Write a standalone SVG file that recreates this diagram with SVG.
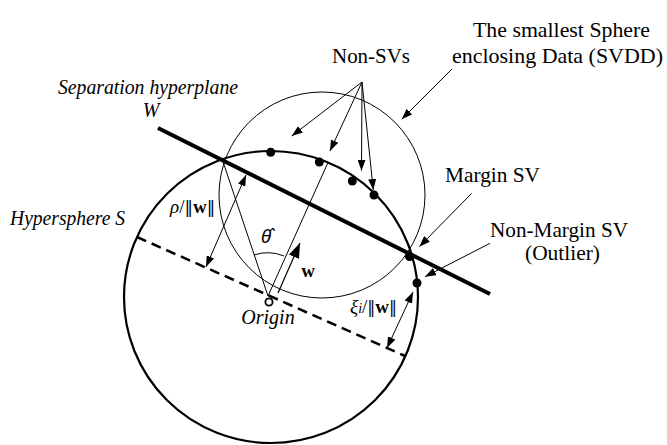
<svg xmlns="http://www.w3.org/2000/svg" width="667" height="445" viewBox="0 0 667 445">
<style>
.lbl{font-size:21px}
.it{font-size:20px;font-style:italic}
.math{font-size:19px}
.thin{stroke:#000;stroke-width:1;fill:none}
.dot{fill:#000}
</style>
<defs>
<marker id="ah" markerUnits="userSpaceOnUse" markerWidth="11" markerHeight="8" refX="11" refY="4" orient="auto-start-reverse">
<path d="M0,0 L11,4 L0,8 z" fill="#000"/>
</marker>
<marker id="ahb" markerUnits="userSpaceOnUse" markerWidth="15" markerHeight="11" refX="15" refY="5.5" orient="auto">
<path d="M0,0 L15,5.5 L0,11 z" fill="#000"/>
</marker>
</defs>
<rect width="667" height="445" fill="#fff"/>

<g id="hypersphere">
<ellipse cx="271" cy="297" rx="147" ry="146" fill="none" stroke="#000" stroke-width="2.2"/>
</g>
<g id="svdd-sphere">
<circle cx="322" cy="195" r="103" class="thin"/>
</g>
<g id="hyperplane">
<line x1="158" y1="128" x2="490" y2="294" stroke="#000" stroke-width="4"/>
</g>
<g id="dashed-plane">
<line x1="137" y1="237" x2="405" y2="356" stroke="#000" stroke-width="2.5" stroke-dasharray="10,6"/>
</g>

<g id="connectors">
<line x1="268" y1="296" x2="222.7" y2="160.7" class="thin"/>
<line x1="268" y1="296" x2="328" y2="162.5" class="thin"/>
<path d="M254,255 A43,43 0 0 1 284,256" class="thin"/>
<line x1="278" y1="293" x2="300" y2="243" stroke="#000" stroke-width="1.2" marker-end="url(#ahb)"/>
<line x1="206" y1="267" x2="246" y2="175" class="thin" marker-start="url(#ah)" marker-end="url(#ah)"/>
<line x1="387" y1="348" x2="413" y2="292" class="thin" marker-start="url(#ah)" marker-end="url(#ah)"/>
<line x1="362" y1="82" x2="291.7" y2="136" class="thin" marker-end="url(#ah)"/>
<line x1="362" y1="82" x2="330" y2="151" class="thin" marker-end="url(#ah)"/>
<line x1="362" y1="82" x2="361.5" y2="170.7" class="thin" marker-end="url(#ah)"/>
<line x1="362" y1="82" x2="373.3" y2="190" class="thin" marker-end="url(#ah)"/>
<line x1="452" y1="69" x2="401.7" y2="119.3" class="thin" marker-end="url(#ah)"/>
<line x1="471.7" y1="193.3" x2="419.3" y2="246.7" class="thin" marker-end="url(#ah)"/>
<line x1="490" y1="243.3" x2="425" y2="276.7" class="thin" marker-end="url(#ah)"/>
</g>

<g id="points">
<circle cx="270.7" cy="152.3" r="4.5" class="dot"/>
<circle cx="319.3" cy="162" r="4.5" class="dot"/>
<circle cx="352.3" cy="181" r="4.5" class="dot"/>
<circle cx="374" cy="195" r="4.5" class="dot"/>
<circle cx="409.5" cy="256.5" r="4.5" class="dot"/>
<circle cx="417" cy="283" r="4.5" class="dot"/>
</g>

<g id="origin">
<circle cx="269" cy="302" r="3.6" fill="#fff" stroke="#000" stroke-width="1.8"/>
<text class="it" font-family="'Liberation Serif', serif" x="268" y="324" text-anchor="middle">Origin</text>
</g>

<g id="labels" font-family="'Liberation Serif', serif">
<text class="lbl" x="561.5" y="37" text-anchor="middle" textLength="177" lengthAdjust="spacingAndGlyphs">The smallest Sphere</text>
<text class="lbl" x="557.5" y="63" text-anchor="middle" textLength="211" lengthAdjust="spacingAndGlyphs">enclosing Data (SVDD)</text>
<text class="lbl" x="371" y="63" text-anchor="middle" textLength="78" lengthAdjust="spacingAndGlyphs">Non-SVs</text>
<text class="it" x="148" y="94" text-anchor="middle" textLength="180" lengthAdjust="spacingAndGlyphs">Separation hyperplane</text>
<text class="it" x="151" y="117" text-anchor="middle" font-size="21">W</text>
<text class="it" x="10" y="225" textLength="115" lengthAdjust="spacingAndGlyphs">Hypersphere S</text>
<text class="lbl" x="492.5" y="182" text-anchor="middle" textLength="95" lengthAdjust="spacingAndGlyphs">Margin SV</text>
<text class="lbl" x="559" y="237" text-anchor="middle" textLength="138" lengthAdjust="spacingAndGlyphs">Non-Margin SV</text>
<text class="lbl" x="562.5" y="260" text-anchor="middle" textLength="75" lengthAdjust="spacingAndGlyphs">(Outlier)</text>
<text class="math" x="170" y="213"><tspan font-style="italic">ρ</tspan>/<tspan font-family="'DejaVu Serif', serif" font-size="17">‖</tspan><tspan font-weight="bold">w</tspan><tspan font-family="'DejaVu Serif', serif" font-size="17">‖</tspan></text>
<text class="math" x="350" y="313" font-size="18"><tspan font-style="italic">ξ</tspan><tspan font-style="italic" font-size="14">i</tspan>/<tspan font-family="'DejaVu Serif', serif" font-size="16">‖</tspan><tspan font-weight="bold">w</tspan><tspan font-family="'DejaVu Serif', serif" font-size="16">‖</tspan></text>
<text class="math" x="266" y="243" text-anchor="middle" font-family="'Noto Sans', sans-serif" font-style="italic" font-size="18">θ̂</text>
<text class="math" x="308" y="277" text-anchor="middle" font-weight="bold" font-size="23">w</text>
</g>
</svg>
